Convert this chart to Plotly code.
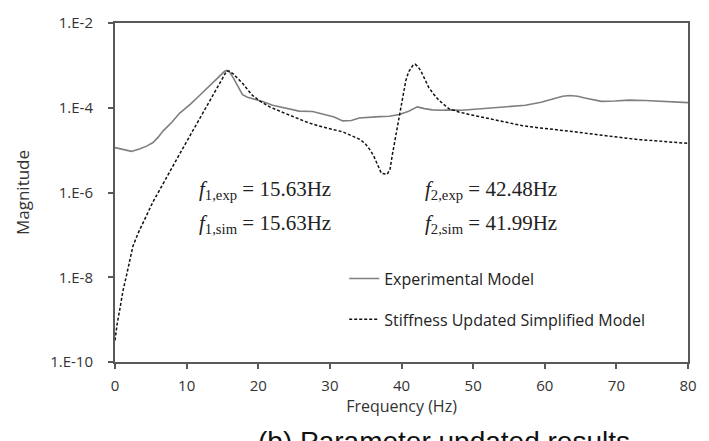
import plotly.graph_objects as go

# Experimental model (solid)
exp_f = [0, 1.2, 2.3, 3.5, 4.5, 5.3, 6.0, 6.7, 8.0, 9.0, 10.5, 11.8, 12.8, 13.7, 14.6, 15.3, 15.6,
         16.0, 16.5, 17.2, 17.8, 18.5, 19.4, 20.7, 22.0, 23.5, 24.8, 25.7, 27.6, 29.4, 30.6, 31.8,
         33.0, 34.1, 35.5, 36.9, 38.3, 39.7, 41.0, 42.2, 43.2, 44.3, 45.6, 47.0, 48.4, 49.8, 51.5,
         53.1, 55.0, 57.3, 59.5, 61.4, 62.5, 63.5, 64.6, 65.6, 66.8, 67.9, 69.8, 71.7, 74.0, 76.8,
         78.5, 80.0]
exp_v = [-4.94, -4.98, -5.03, -4.97, -4.90, -4.82, -4.70, -4.55, -4.33, -4.13, -3.92, -3.71, -3.55,
         -3.40, -3.25, -3.14, -3.12, -3.16, -3.29, -3.50, -3.69, -3.75, -3.79, -3.86, -3.94, -4.00,
         -4.05, -4.08, -4.09, -4.16, -4.22, -4.31, -4.30, -4.24, -4.22, -4.21, -4.20, -4.16, -4.08,
         -3.98, -4.02, -4.05, -4.06, -4.05, -4.06, -4.04, -4.02, -4.00, -3.98, -3.94, -3.87, -3.78,
         -3.73, -3.71, -3.73, -3.77, -3.82, -3.85, -3.84, -3.82, -3.83, -3.85, -3.86, -3.88]

# Stiffness updated simplified model (dashed)
sim_f = [0, 0.3, 0.7, 1.1, 1.6, 2.0, 2.5, 3.2, 3.9, 4.6, 5.3, 6.2, 7.0, 8.0, 9.0, 10.0, 11.0, 12.0,
         13.0, 14.0, 14.8, 15.3, 15.6, 16.0, 16.5, 17.2, 17.9, 18.5, 19.2, 20.3, 21.6, 23.0, 24.3,
         25.7, 27.1, 28.3, 29.5, 30.6, 31.8, 33.0, 34.1, 34.9, 35.5, 36.1, 36.6, 37.2, 38.0, 38.4,
         38.7, 39.2, 39.7, 40.2, 40.6, 41.0, 41.3, 41.6, 41.9, 42.3, 42.7, 43.2, 43.8, 44.5, 45.2,
         46.6, 48.0, 49.8, 51.5, 53.6, 56.8, 59.0, 61.4, 63.8, 66.1, 68.4, 70.7, 73.0, 75.4, 77.7,
         80.0]
sim_v = [-9.49, -9.10, -8.73, -8.33, -7.96, -7.62, -7.27, -6.97, -6.72, -6.46, -6.22, -5.95, -5.70,
         -5.40, -5.10, -4.80, -4.50, -4.20, -3.90, -3.60, -3.35, -3.20, -3.13, -3.14, -3.20, -3.32,
         -3.44, -3.57, -3.71, -3.85, -3.98, -4.08, -4.17, -4.27, -4.36, -4.42, -4.48, -4.52, -4.57,
         -4.65, -4.74, -4.84, -4.97, -5.13, -5.31, -5.55, -5.57, -5.45, -5.13, -4.68, -4.21, -3.78,
         -3.36, -3.15, -3.06, -3.00, -2.97, -3.03, -3.13, -3.30, -3.52, -3.68, -3.82, -4.02, -4.10,
         -4.17, -4.23, -4.30, -4.42, -4.47, -4.51, -4.56, -4.61, -4.66, -4.71, -4.75, -4.78, -4.81,
         -4.84]

y_tickvals = [1e-10, 1e-8, 1e-6, 1e-4, 1e-2]
y_ticktext = ["1.E-10", "1.E-8", "1.E-6", "1.E-4", "1.E-2"]
x_tickvals = [0, 10, 20, 30, 40, 50, 60, 70, 80]

exp_y = [10 ** v for v in exp_v]
sim_y = [10 ** v for v in sim_v]

fig = go.Figure()
fig.add_trace(go.Scatter(x=exp_f, y=exp_y, mode="lines", name="Experimental Model",
                         legendgroup="a",
                         line=dict(color="#7f7f7f", width=1.6)))
fig.add_trace(go.Scatter(x=sim_f, y=sim_y, mode="lines", name="Stiffness Updated Simplified Model",
                         legendgroup="b",
                         line=dict(color="#111111", width=1.5, dash="3px,2px")))

axis_col = "#595959"
sans = "Open Sans, Liberation Sans, sans-serif"
tick_font = dict(family=sans, size=15, color="#333333")

fig.update_xaxes(range=[0, 80], tickvals=x_tickvals, showline=True, linecolor=axis_col,
                 linewidth=2, mirror=True, ticks="outside", ticklen=5, tickcolor=axis_col,
                 tickwidth=1.5, showgrid=False, zeroline=False, tickfont=tick_font,
                 ticklabelstandoff=4,
                 title=dict(text="Frequency (Hz)", font=dict(family=sans, size=16, color="#333333"),
                            standoff=6))
fig.update_yaxes(type="log", range=[-10, -2], tickvals=y_tickvals, ticktext=y_ticktext,
                 showline=True, linecolor=axis_col, linewidth=2, mirror=True, ticks="outside",
                 ticklen=5, tickcolor=axis_col, tickwidth=1.5, showgrid=False, zeroline=False,
                 tickfont=tick_font, ticklabelstandoff=12,
                 title=dict(text="Magnitude", font=dict(family=sans, size=17, color="#333333"),
                            standoff=16))

serif = dict(family="Liberation Serif, Times New Roman, serif", size=21, color="#222222")
anns = [
    (197, 185, "<i>f</i><sub>1,exp</sub> = 15.63Hz"),
    (197, 220, "<i>f</i><sub>1,sim</sub> = 15.63Hz"),
    (424, 185, "<i>f</i><sub>2,exp</sub> = 42.48Hz"),
    (424, 220, "<i>f</i><sub>2,sim</sub> = 41.99Hz"),
]
for px, py, t in anns:
    fig.add_annotation(x=(px - 115) / 575, y=(362 - py) / 348, xref="paper", yref="paper",
                       text=t, showarrow=False, xanchor="left", yanchor="middle", font=serif)

fig.add_annotation(x=(445 - 115) / 575, y=(362 - 426) / 348, xref="paper", yref="paper",
                   text="(b) Parameter updated results", showarrow=False, xanchor="center",
                   yanchor="top", font=dict(family="Liberation Sans, Arial, sans-serif",
                                             size=28, color="#111111"))

fig.update_layout(
    width=709, height=441,
    margin=dict(l=115, r=19, t=14, b=79),
    paper_bgcolor="white", plot_bgcolor="white",
    showlegend=True,
    legend=dict(x=(345 - 115) / 575, y=(362 - 259) / 348, xanchor="left", yanchor="top",
                bgcolor="rgba(0,0,0,0)", traceorder="grouped", tracegroupgap=17,
                font=dict(family=sans, size=16, color="#222222")),
)

fig.write_html("out.html")
